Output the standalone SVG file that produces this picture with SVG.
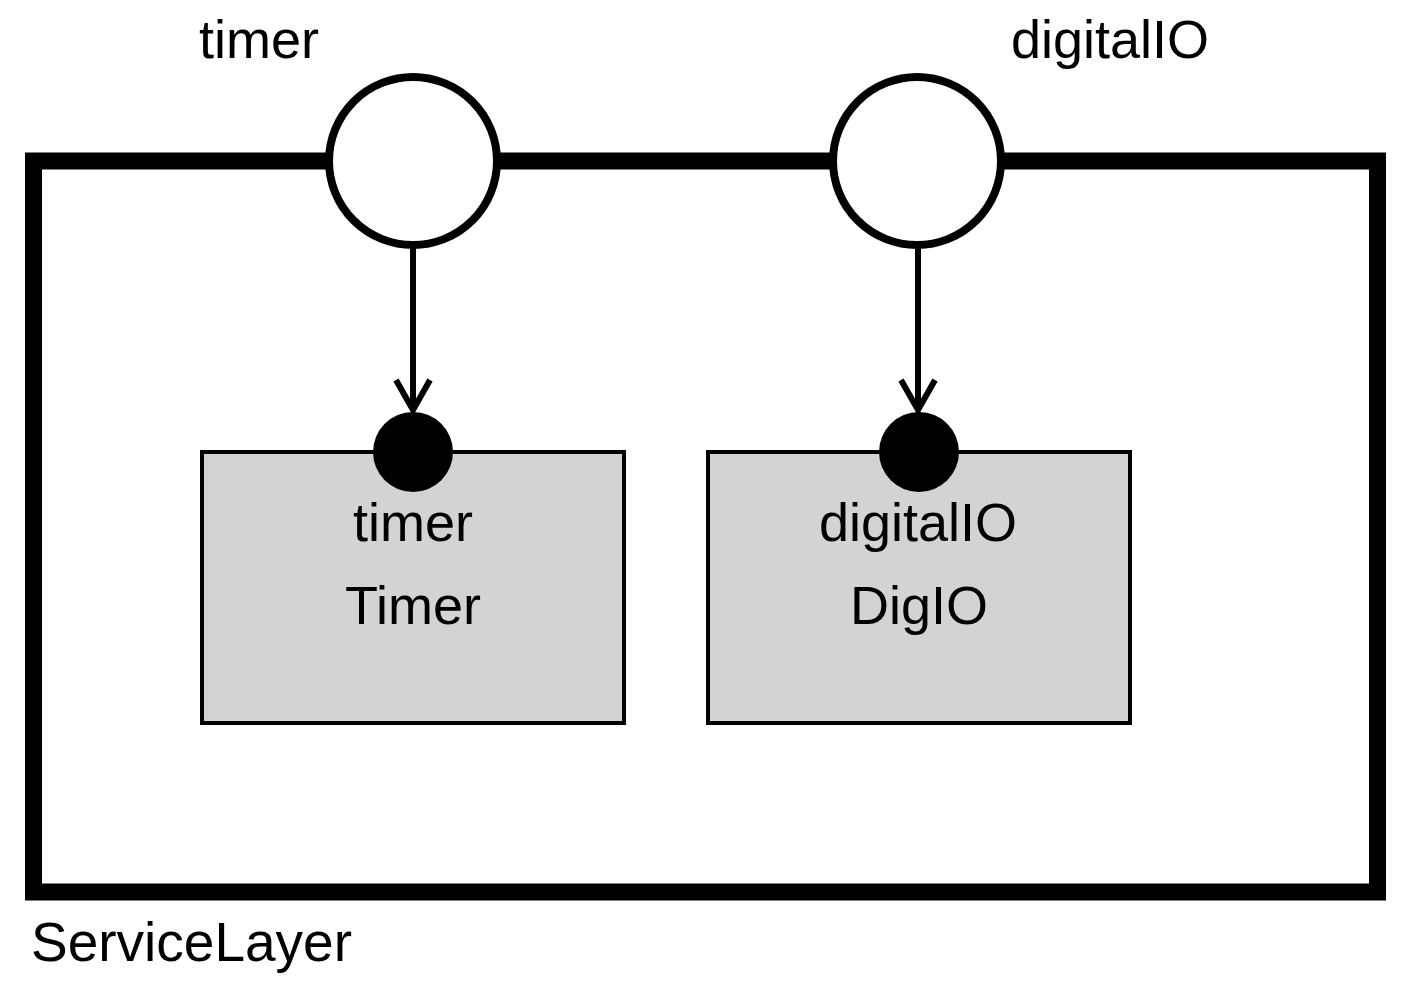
<svg xmlns="http://www.w3.org/2000/svg" width="1411" height="988" viewBox="0 0 1411 988">
<style>
text{font-family:"Liberation Sans",Arial,sans-serif;font-size:54px;fill:#000}
.port{fill:#fff;stroke:#000;stroke-width:8}
.part{fill:#d3d3d3;stroke:#000;stroke-width:4}
.dot{fill:#000}
.conn{fill:none;stroke:#000;stroke-width:6}
</style>
<rect width="1411" height="988" fill="#fff"/>
<g id="ServiceLayer">
<rect x="33.5" y="161" width="1344" height="731" fill="#fff" stroke="#000" stroke-width="17"/>
<text x="31" y="961" style="font-size:55px">ServiceLayer</text>
</g>
<g id="port-timer">
<circle class="port" cx="413" cy="161" r="84"/>
<text x="259" y="58" text-anchor="middle">timer</text>
</g>
<g id="port-digitalIO">
<circle class="port" cx="917" cy="161" r="84"/>
<text x="1110" y="58" text-anchor="middle">digitalIO</text>
</g>
<g id="part-timer">
<rect class="part" x="202" y="452" width="422" height="271"/>
<circle class="dot" cx="413" cy="452" r="40"/>
<text x="413" y="541" text-anchor="middle">timer</text>
<text x="413" y="624" text-anchor="middle">Timer</text>
</g>
<g id="part-digitalIO">
<rect class="part" x="708" y="452" width="422" height="271"/>
<circle class="dot" cx="919" cy="452" r="40"/>
<text x="918" y="541" text-anchor="middle">digitalIO</text>
<text x="919" y="624" text-anchor="middle">DigIO</text>
</g>
<g id="connectors">
<path class="conn" d="M413 245 V410 M396 380 L413 410 L430 380"/>
<path class="conn" d="M918 245 V410 M901 380 L918 410 L935 380"/>
</g>
</svg>
